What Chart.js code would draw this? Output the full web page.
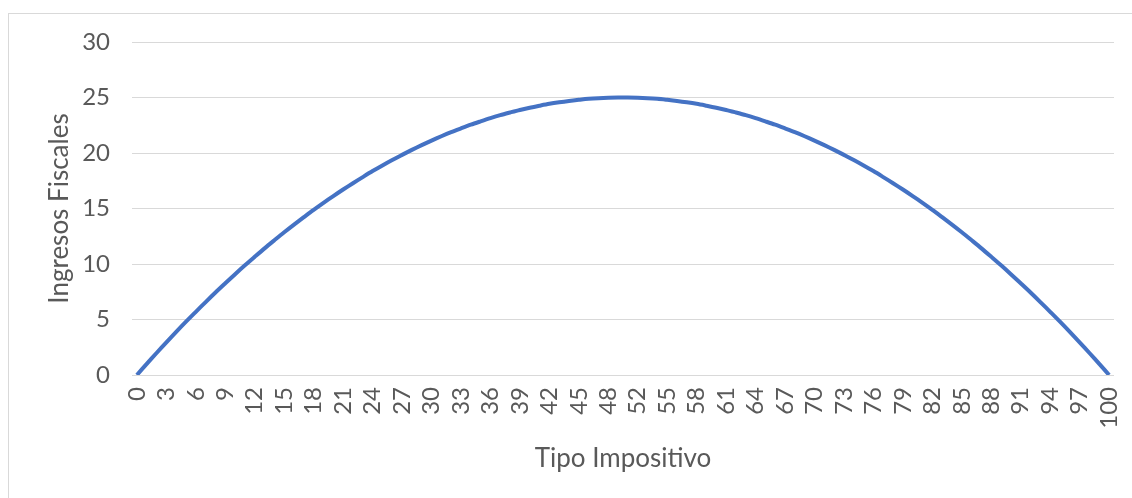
<!DOCTYPE html>
<html>
<head>
<meta charset="utf-8">
<script src="https://cdn.jsdelivr.net/npm/chart.js@4/dist/chart.umd.min.js"></script>
<style>
  html, body { margin: 0; padding: 0; background: #ffffff; overflow: hidden; }
  #frame { position: absolute; left: 8px; top: 13px; width: 1400px; height: 800px;
           border: 1px solid #D9D9D9; box-sizing: border-box; }
  #wrap { position: absolute; left: 0; top: 0; width: 1132px; height: 498px; }
</style>
</head>
<body>
<div id="frame"></div>
<div id="wrap"><canvas id="chart" width="1132" height="498"></canvas></div>
<script>
// Tax rate (rounded, %) for each of the 100 evaluated rates
const taxRates = [
  0, 1, 2, 3, 4, 5, 6, 7, 8, 9, 10, 11, 12, 13, 14, 15, 16, 17, 18, 19,
  20, 21, 22, 23, 24, 25, 26, 27, 28, 29, 30, 31, 32, 33, 34, 35, 36, 37, 38, 39,
  40, 41, 42, 43, 44, 45, 46, 47, 48, 49, 51, 52, 53, 54, 55, 56, 57, 58, 59, 60,
  61, 62, 63, 64, 65, 66, 67, 68, 69, 70, 71, 72, 73, 74, 75, 76, 77, 78, 79, 80,
  81, 82, 83, 84, 85, 86, 87, 88, 89, 90, 91, 92, 93, 94, 95, 96, 97, 98, 99, 100
];

// Tax revenue at each rate
const revenue = [
  0.00, 1.00, 1.98, 2.94, 3.88, 4.80, 5.69, 6.57, 7.43, 8.26,
  9.08, 9.88, 10.65, 11.41, 12.14, 12.86, 13.55, 14.22, 14.88, 15.51,
  16.12, 16.71, 17.28, 17.83, 18.37, 18.88, 19.37, 19.83, 20.28, 20.71,
  21.12, 21.51, 21.88, 22.22, 22.55, 22.85, 23.14, 23.41, 23.65, 23.88,
  24.08, 24.26, 24.43, 24.57, 24.69, 24.79, 24.88, 24.94, 24.98, 25.00,
  25.00, 24.98, 24.94, 24.88, 24.79, 24.69, 24.57, 24.43, 24.26, 24.08,
  23.88, 23.65, 23.41, 23.14, 22.85, 22.55, 22.22, 21.88, 21.51, 21.12,
  20.71, 20.28, 19.83, 19.37, 18.88, 18.37, 17.83, 17.28, 16.71, 16.12,
  15.51, 14.88, 14.22, 13.55, 12.86, 12.14, 11.41, 10.65, 9.88, 9.08,
  8.26, 7.43, 6.57, 5.69, 4.80, 3.88, 2.94, 1.98, 1.00, 0.00
];

const yTicks = [0, 5, 10, 15, 20, 25, 30];
const xLabelEvery = 3;

const textColor = '#595959';
const gridColor = '#D9D9D9';
const tickFont = { family: 'Lato', size: 24 };
const titleFont = { family: 'Lato', size: 26 };

new Chart(document.getElementById('chart'), {
  type: 'line',
  data: {
    labels: taxRates.map(String),
    datasets: [{
      data: revenue,
      borderColor: '#4472C4',
      borderWidth: 4,
      pointRadius: 0,
      pointHoverRadius: 0,
      tension: 0.3,
      fill: false
    }]
  },
  options: {
    responsive: false,
    animation: false,
    devicePixelRatio: 1,
    layout: { padding: { left: 42, right: 18, top: 42, bottom: 0 } },
    plugins: { legend: { display: false }, tooltip: { enabled: false } },
    scales: {
      x: {
        type: 'category',
        offset: true,
        grid: { display: false },
        border: { display: false },
        ticks: {
          autoSkip: false,
          minRotation: 90,
          maxRotation: 90,
          padding: 4,
          color: textColor,
          font: tickFont,
          callback: (v, i) => (i % xLabelEvery === 0 ? taxRates[i] : '')
        },
        title: {
          display: true,
          text: 'Tipo Impositivo',
          color: textColor,
          font: titleFont,
          padding: { top: 4, bottom: 24 }
        },
        afterFit: (s) => { s.height = 123; s.paddingLeft = 0; s.paddingRight = 0; }
      },
      y: {
        min: yTicks[0],
        max: yTicks[yTicks.length - 1],
        afterBuildTicks: (s) => { s.ticks = yTicks.map(v => ({ value: v })); },
        grid: { color: gridColor, lineWidth: 1, drawTicks: false },
        border: { display: false },
        ticks: { color: textColor, font: tickFont, padding: 22 },
        title: {
          display: true,
          text: 'Ingresos Fiscales',
          color: textColor,
          font: titleFont,
          padding: { top: 2, bottom: 4 }
        },
        afterFit: (s) => { s.width = 90; s.paddingTop = 0; s.paddingBottom = 0; }
      }
    }
  }
});
</script>
</body>
</html>
